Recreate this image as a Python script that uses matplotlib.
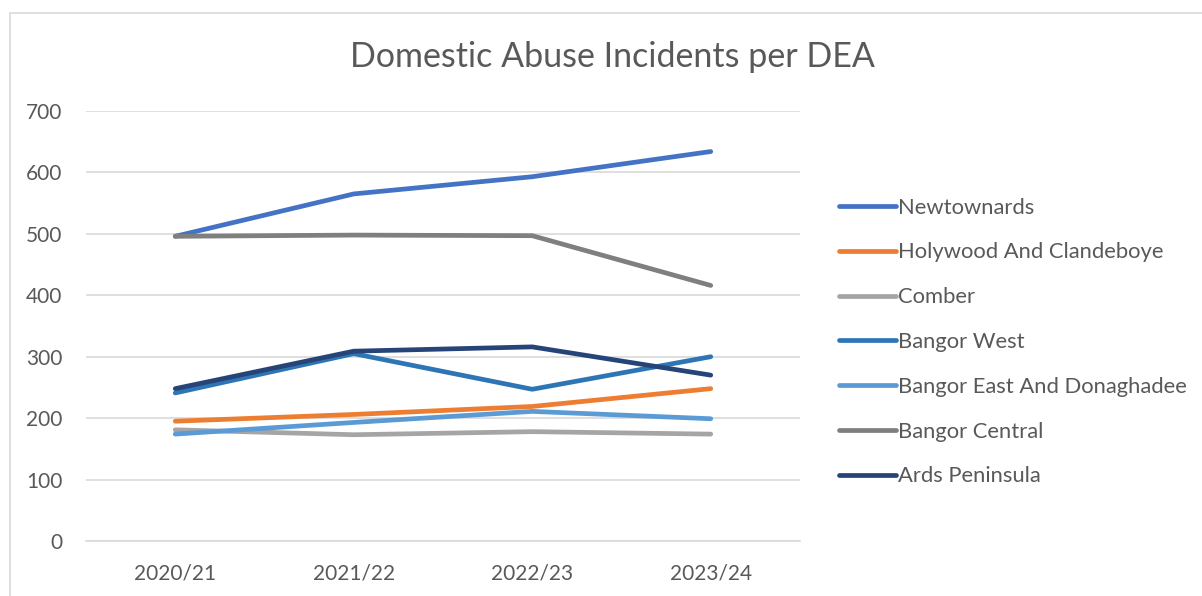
import matplotlib
matplotlib.use('Agg')
import matplotlib.pyplot as plt
from matplotlib.patches import Rectangle

plt.rcParams['font.family'] = ['Lato', 'DejaVu Sans']

years = ['2020/21', '2021/22', '2022/23', '2023/24']

newtownards = [496, 565, 593, 634]
holywood = [195, 206, 219, 248]
comber = [181, 173, 178, 174]
bangor_west = [241, 305, 247, 300]
bangor_east = [174, 193, 211, 199]
bangor_central = [496, 498, 497, 416]
ards = [248, 309, 316, 270]

names = ['Newtownards', 'Holywood And Clandeboye', 'Comber', 'Bangor West',
         'Bangor East And Donaghadee', 'Bangor Central', 'Ards Peninsula']
series = [newtownards, holywood, comber, bangor_west, bangor_east, bangor_central, ards]
colors = ['#4472C4', '#ED7D31', '#A5A5A5', '#2E75B6', '#5B9BD5', '#7F7F7F', '#264478']

txt = '#595959'

fig = plt.figure(figsize=(12.02, 5.96), dpi=100)
# chart border (Excel chart area)
fig.patches.append(Rectangle((10/1202, -0.05), 1.2, 1 - 13/596 + 0.05,
                             transform=fig.transFigure, fill=False,
                             edgecolor='#D9D9D9', linewidth=1.2))

ax = fig.add_axes([86/1202, 1 - 541/596, 714/1202, 430/596])

x = range(len(years))
for vals, name, c in zip(series, names, colors):
    ax.plot(x, vals, color=c, linewidth=3.4, label=name, solid_capstyle='round')

ax.set_xlim(-0.5, 3.5)
ax.set_ylim(0, 700)
ax.set_yticks(range(0, 701, 100))
ax.set_xticks(list(x))
ax.set_xticklabels(years)
ax.grid(axis='y', color='#D9D9D9', linewidth=1.2)
ax.set_axisbelow(True)
for s in ['top', 'right', 'left']:
    ax.spines[s].set_visible(False)
ax.spines['bottom'].set_color('#D9D9D9')
ax.spines['bottom'].set_linewidth(1.2)
ax.tick_params(length=0, labelsize=15, colors=txt)
ax.tick_params(axis='y', pad=17)
ax.tick_params(axis='x', pad=16)

fig.text(612/1202, 1 - 57/596, 'Domestic Abuse Incidents per DEA',
         ha='center', va='center', fontsize=24.5, color=txt)

leg = ax.legend(loc='center left', bbox_to_anchor=(819/1202, 1 - 342/596),
                bbox_transform=fig.transFigure, frameon=False, fontsize=15.8,
                labelspacing=1.13, handlelength=2.6, handletextpad=0.12)
for t in leg.get_texts():
    t.set_color(txt)

fig.savefig('out.png', dpi=100)
